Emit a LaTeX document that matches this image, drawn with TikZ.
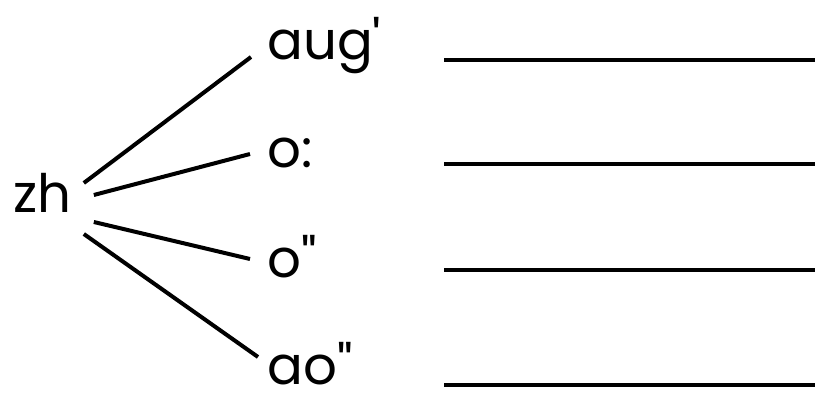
\documentclass[tikz,border=0pt]{standalone}
\usepackage{fontspec}
\newfontfamily\leaffont{Poppins}
\usepackage{tikz}
\usetikzlibrary{calc}

\tikzset{
    leaf/.style={anchor=base west, inner sep=0pt, font=\leaffont\fontsize{26.5}{30}\selectfont},
    branch/.style={line width=2pt},
    blank/.style={line width=2pt}
}

\begin{document}
\begin{tikzpicture}[x=0.5pt, y=-0.5pt]
    \useasboundingbox (0,0) rectangle (815,394);

    % root and children
    \node[leaf] (zh) at (13,213) {zh};
    \node[leaf] (aug) at (267,60) {aug'};
    \node[leaf] (oc) at (267,168) {o:};
    \node[leaf] (oq) at (267,278) {o"};
    \node[leaf] (aoq) at (267,385) {ao"};

    \draw[branch] ($(zh.base east)+(12,-30)$) -- ($(aug.base west)+(-16,-3)$);
    \draw[branch] ($(zh.base east)+(22,-18)$) -- ($(oc.base west)+(-17,-14)$);
    \draw[branch] ($(zh.base east)+(22,9)$) -- ($(oq.base west)+(-17,-19)$);
    \draw[branch] ($(zh.base east)+(12,21)$) -- ($(aoq.base west)+(-9,-28)$);

    % blanks to fill in
    \foreach \y in {60,164,270,385}
        \draw[blank] (444,\y) -- (815,\y);
\end{tikzpicture}
\end{document}
